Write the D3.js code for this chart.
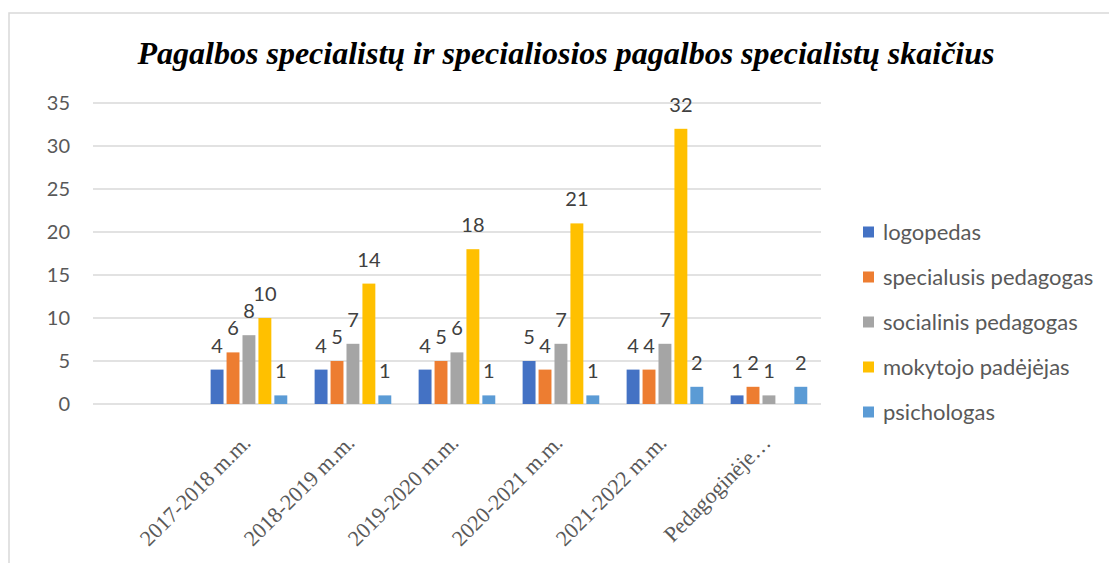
<!DOCTYPE html>
<html>
<head>
<meta charset="utf-8">
<script src="https://cdn.jsdelivr.net/npm/d3@7"></script>
<style>
  body { margin: 0; background: #ffffff; }
</style>
</head>
<body>
<div id="chart"></div>
<script>
const categories = ["", "2017-2018 m.m.", "2018-2019 m.m.", "2019-2020 m.m.", "2020-2021 m.m.", "2021-2022 m.m.", "Pedagoginėje…"];
const seriesNames = ["logopedas", "specialusis pedagogas", "socialinis pedagogas", "mokytojo padėjėjas", "psichologas"];
const logopedas = [null, 4, 4, 4, 5, 4, 1];
const specialusis = [null, 6, 5, 5, 4, 4, 2];
const socialinis = [null, 8, 7, 6, 7, 7, 1];
const mokytojo = [null, 10, 14, 18, 21, 32, null];
const psichologas = [null, 1, 1, 1, 1, 2, 2];
const yTicks = [0, 5, 10, 15, 20, 25, 30, 35];
const colors = ["#4472C4", "#ED7D31", "#A5A5A5", "#FFC000", "#5B9BD5"];

const seriesValues = [logopedas, specialusis, socialinis, mokytojo, psichologas];

const width = 1109;
const height = 563;
const plot = { left: 93, right: 821, top: 103, bottom: 404 };

const svg = d3
  .select("#chart")
  .append("svg")
  .attr("width", width)
  .attr("height", height);

svg.append("rect")
  .attr("width", width)
  .attr("height", height)
  .attr("fill", "#ffffff");

// chart frame (only the top and left edges fall inside the picture)
svg.append("rect")
  .attr("x", 9)
  .attr("y", 13)
  .attr("width", 1300)
  .attr("height", 800)
  .attr("fill", "none")
  .attr("stroke", "#d9d9d9")
  .attr("stroke-width", 1.5);

svg.append("text")
  .attr("x", 566)
  .attr("y", 64)
  .attr("text-anchor", "middle")
  .style("font-family", "'Liberation Serif', 'Times New Roman', serif")
  .style("font-weight", "bold")
  .style("font-style", "italic")
  .style("font-size", "32px")
  .attr("fill", "#000000")
  .text("Pagalbos specialistų ir specialiosios pagalbos specialistų skaičius");

const x0 = d3
  .scaleBand()
  .domain(categories)
  .range([plot.left, plot.right])
  .paddingInner(0)
  .paddingOuter(0);

const x1 = d3
  .scaleBand()
  .domain(seriesNames)
  .range([x0.bandwidth() * 0.131, x0.bandwidth() * 0.868])
  .paddingInner(0.19);

const y = d3
  .scaleLinear()
  .domain([0, 35])
  .range([plot.bottom, plot.top]);

const color = d3.scaleOrdinal().domain(seriesNames).range(colors);

// gridlines
svg.append("g")
  .selectAll("line")
  .data(yTicks)
  .enter()
  .append("line")
  .attr("x1", plot.left)
  .attr("x2", plot.right)
  .attr("y1", (d) => y(d))
  .attr("y2", (d) => y(d))
  .attr("stroke", "#d9d9d9")
  .attr("stroke-width", 1.5);

// y axis labels
const yAxis = svg
  .append("g")
  .attr("transform", "translate(" + plot.left + ",0)")
  .call(d3.axisLeft(y).tickValues(yTicks).tickSize(0).tickPadding(23));

yAxis.select(".domain").remove();
yAxis
  .selectAll("text")
  .style("font-family", "Lato, 'Open Sans', sans-serif")
  .style("font-size", "20px")
  .attr("fill", "#595959");

// x axis labels
const xAxis = svg
  .append("g")
  .attr("transform", "translate(0," + plot.bottom + ")")
  .call(d3.axisBottom(x0).tickSize(0));

xAxis.select(".domain").remove();
xAxis
  .selectAll("text")
  .style("font-family", "'Liberation Serif', 'Times New Roman', serif")
  .style("font-size", "22px")
  .attr("fill", "#595959")
  .attr("text-anchor", "end")
  .attr("dy", null)
  .attr("y", 0)
  .attr("transform", "translate(3,40) rotate(-45)");

// bars
const groups = svg
  .append("g")
  .selectAll("g")
  .data(seriesNames)
  .enter()
  .append("g")
  .attr("fill", (d) => color(d));

const points = (s, i) =>
  categories
    .map((c, j) => ({ cat: c, series: s, value: seriesValues[i][j] }))
    .filter((p) => p.value !== null);

groups.each(function (s, i) {
  const g = d3.select(this);
  const pts = points(s, i);

  g.selectAll("rect")
    .data(pts)
    .enter()
    .append("rect")
    .attr("x", (d) => x0(d.cat) + x1(d.series))
    .attr("y", (d) => y(d.value))
    .attr("width", x1.bandwidth())
    .attr("height", (d) => y(0) - y(d.value));

  g.selectAll("text")
    .data(pts)
    .enter()
    .append("text")
    .attr("x", (d) => x0(d.cat) + x1(d.series) + x1.bandwidth() / 2)
    .attr("y", (d) => y(d.value) - 17)
    .attr("text-anchor", "middle")
    .style("font-family", "Lato, 'Open Sans', sans-serif")
    .style("font-size", "20px")
    .attr("fill", "#404040")
    .text((d) => d.value);
});

// legend
const legend = svg
  .append("g")
  .selectAll("g")
  .data(seriesNames)
  .enter()
  .append("g")
  .attr("transform", (d, i) => "translate(863," + (232 + i * 45) + ")");

legend
  .append("rect")
  .attr("x", 0)
  .attr("y", -5.5)
  .attr("width", 11)
  .attr("height", 11)
  .attr("fill", (d) => color(d));

legend
  .append("text")
  .attr("x", 20)
  .attr("y", 0)
  .attr("dy", "0.35em")
  .style("font-family", "Lato, 'Open Sans', sans-serif")
  .style("font-size", "22px")
  .attr("fill", "#595959")
  .text((d) => d);
</script>
</body>
</html>
